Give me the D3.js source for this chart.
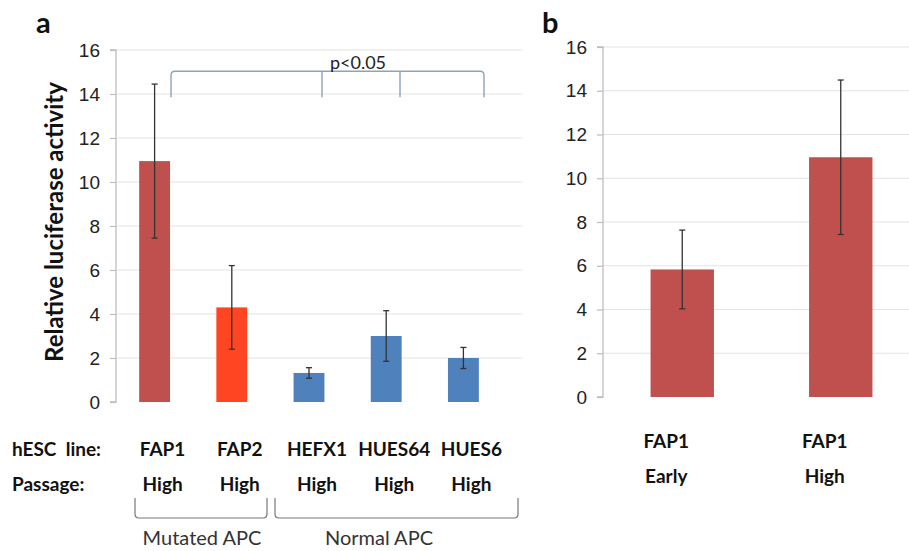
<!DOCTYPE html>
<html>
<head>
<meta charset="utf-8">
<script src="https://cdn.jsdelivr.net/npm/d3@7"></script>
<style>
  body { margin: 0; background: #fff; }
  svg { font-family: Lato, "Open Sans", sans-serif; }
</style>
</head>
<body>
<div class="js-chart"></div>
<script>
'use strict';

// panel a data
const linesA = ['FAP1', 'FAP2', 'HEFX1', 'HUES64', 'HUES6'];
const passageA = ['High', 'High', 'High', 'High', 'High'];
const valuesA = [10.95, 4.3, 1.32, 3.0, 2.0];
const errorsA = [3.5, 1.9, 0.24, 1.15, 0.48];
const colorsA = ['#c0504d', '#ff4521', '#4f81bd', '#4f81bd', '#4f81bd'];

// panel b data
const linesB = ['FAP1', 'FAP1'];
const passageB = ['Early', 'High'];
const valuesB = [5.83, 10.96];
const errorsB = [1.8, 3.53];
const colorsB = ['#c0504d', '#c0504d'];

const yTicks = [0, 2, 4, 6, 8, 10, 12, 14, 16];

const svg = d3.select('.js-chart')
    .append('svg')
    .attr('width', 909)
    .attr('height', 551);

// draws one bar panel
const drawPanel = (opt) => {
    const x = d3.scaleBand()
        .domain(opt.keys)
        .range([opt.left, opt.right])
        .paddingInner(0.6)
        .paddingOuter(0.3);

    const y = d3.scaleLinear()
        .domain([0, 16])
        .range([opt.bottom, opt.top]);

    const g = svg.append('g');

    // gridlines
    g.selectAll('line.grid')
        .data(yTicks.slice(1))
        .enter()
        .append('line')
        .attr('class', 'grid')
        .attr('x1', opt.left)
        .attr('x2', opt.gridEnd)
        .attr('y1', d => y(d))
        .attr('y2', d => y(d))
        .attr('stroke', '#e3e3e3')
        .attr('stroke-width', 1.2);

    // y axis
    const yAxis = d3.axisLeft(y)
        .tickValues(yTicks)
        .tickSize(6)
        .tickPadding(10);

    const axisG = g.append('g')
        .attr('transform', `translate(${opt.left},0)`)
        .call(yAxis);

    axisG.select('.domain')
        .attr('stroke', '#bdbdbd')
        .attr('stroke-width', 1.3)
        .attr('d', `M-6,${opt.bottom}H0V${opt.top}H-6`);
    axisG.selectAll('.tick line').attr('stroke', '#bdbdbd').attr('stroke-width', 1.2);
    axisG.selectAll('.tick text')
        .attr('font-size', 19)
        .attr('fill', '#222');

    // bars
    g.selectAll('rect.bar')
        .data(opt.keys)
        .enter()
        .append('rect')
        .attr('class', 'bar')
        .attr('x', d => x(d))
        .attr('width', x.bandwidth())
        .attr('y', (d, i) => y(opt.values[i]))
        .attr('height', (d, i) => opt.bottom - y(opt.values[i]))
        .attr('fill', (d, i) => opt.colors[i]);

    // error bars
    const err = g.selectAll('g.err')
        .data(opt.keys)
        .enter()
        .append('g')
        .attr('class', 'err')
        .attr('stroke', '#333')
        .attr('stroke-width', 1.3);

    const cx = d => x(d) + x.bandwidth() / 2;

    err.append('line')
        .attr('x1', cx)
        .attr('x2', cx)
        .attr('y1', (d, i) => y(opt.values[i] + opt.errors[i]))
        .attr('y2', (d, i) => y(opt.values[i] - opt.errors[i]));
    err.append('line')
        .attr('x1', d => cx(d) - 3)
        .attr('x2', d => cx(d) + 3)
        .attr('y1', (d, i) => y(opt.values[i] + opt.errors[i]))
        .attr('y2', (d, i) => y(opt.values[i] + opt.errors[i]));
    err.append('line')
        .attr('x1', d => cx(d) - 3)
        .attr('x2', d => cx(d) + 3)
        .attr('y1', (d, i) => y(opt.values[i] - opt.errors[i]))
        .attr('y2', (d, i) => y(opt.values[i] - opt.errors[i]));

    // category labels
    g.selectAll('text.line-label')
        .data(opt.lines)
        .enter()
        .append('text')
        .attr('x', (d, i) => cx(opt.keys[i]) + opt.labelShift)
        .attr('y', opt.row1)
        .attr('text-anchor', 'middle')
        .attr('font-size', 19)
        .attr('font-weight', 'bold')
        .attr('fill', '#111')
        .text(d => d);

    g.selectAll('text.passage-label')
        .data(opt.passage)
        .enter()
        .append('text')
        .attr('x', (d, i) => cx(opt.keys[i]) + opt.labelShift)
        .attr('y', opt.row2)
        .attr('text-anchor', 'middle')
        .attr('font-size', 19)
        .attr('font-weight', 'bold')
        .attr('fill', '#111')
        .text(d => d);

    return { x, y, cx };
};

const a = drawPanel({
    keys: linesA.map((d, i) => d + i),
    lines: linesA,
    passage: passageA,
    values: valuesA,
    errors: errorsA,
    colors: colorsA,
    left: 116, right: 502, gridEnd: 523,
    top: 50, bottom: 402,
    row1: 456, row2: 491,
    labelShift: 8
});

const b = drawPanel({
    keys: linesB.map((d, i) => d + i),
    lines: linesB,
    passage: passageB,
    values: valuesB,
    errors: errorsB,
    colors: colorsB,
    left: 603, right: 920, gridEnd: 909,
    top: 47, bottom: 397,
    row1: 448, row2: 483,
    labelShift: -16
});

// row headings for panel a
svg.append('text')
    .attr('x', 12).attr('y', 456)
    .attr('font-size', 19).attr('font-weight', 'bold').attr('fill', '#111')
    .attr('xml:space', 'preserve')
    .text('hESC  line:');
svg.append('text')
    .attr('x', 12).attr('y', 491)
    .attr('font-size', 19).attr('font-weight', 'bold').attr('fill', '#111')
    .text('Passage:');

// y title
svg.append('text')
    .attr('transform', 'translate(63,222) rotate(-90)')
    .attr('text-anchor', 'middle')
    .attr('font-size', 24)
    .attr('font-weight', 'bold')
    .attr('fill', '#111')
    .text('Relative luciferase activity');

// panel letters
svg.append('text')
    .attr('x', 36).attr('y', 33)
    .attr('font-size', 29).attr('font-weight', 'bold').attr('fill', '#111')
    .text('a');
svg.append('text')
    .attr('x', 542).attr('y', 33)
    .attr('font-size', 29).attr('font-weight', 'bold').attr('fill', '#111')
    .text('b');

// significance bracket
const bracketY = a.y(13.85);
const legX = [171, 322, 400, 484];
const topY = bracketY - 26;
const bracket = d3.path();
bracket.moveTo(legX[0], bracketY);
bracket.lineTo(legX[0], topY + 4);
bracket.quadraticCurveTo(legX[0], topY, legX[0] + 4, topY);
bracket.lineTo(legX[3] - 4, topY);
bracket.quadraticCurveTo(legX[3], topY, legX[3], topY + 4);
bracket.lineTo(legX[3], bracketY);
bracket.moveTo(legX[1], topY);
bracket.lineTo(legX[1], bracketY);
bracket.moveTo(legX[2], topY);
bracket.lineTo(legX[2], bracketY);

svg.append('path')
    .attr('d', bracket.toString())
    .attr('fill', 'none')
    .attr('stroke', '#8ea3b5')
    .attr('stroke-width', 1.4);

svg.append('text')
    .attr('x', 358).attr('y', topY - 2)
    .attr('text-anchor', 'middle')
    .attr('font-size', 18)
    .attr('fill', '#222')
    .text('p<0.05');

// group brackets under panel a
const groups = [
    { name: 'Mutated APC', x0: 135, x1: 267, cx: 202 },
    { name: 'Normal APC', x0: 275, x1: 518, cx: 379 }
];

groups.forEach(gr => {
    const p = d3.path();
    p.moveTo(gr.x0, 498);
    p.lineTo(gr.x0, 514);
    p.quadraticCurveTo(gr.x0, 518, gr.x0 + 4, 518);
    p.lineTo(gr.x1 - 4, 518);
    p.quadraticCurveTo(gr.x1, 518, gr.x1, 514);
    p.lineTo(gr.x1, 498);
    svg.append('path')
        .attr('d', p.toString())
        .attr('fill', 'none')
        .attr('stroke', '#777')
        .attr('stroke-width', 1.2);
    svg.append('text')
        .attr('x', gr.cx).attr('y', 545)
        .attr('text-anchor', 'middle')
        .attr('font-size', 20)
        .attr('fill', '#333')
        .text(gr.name);
});
</script>
</body>
</html>
